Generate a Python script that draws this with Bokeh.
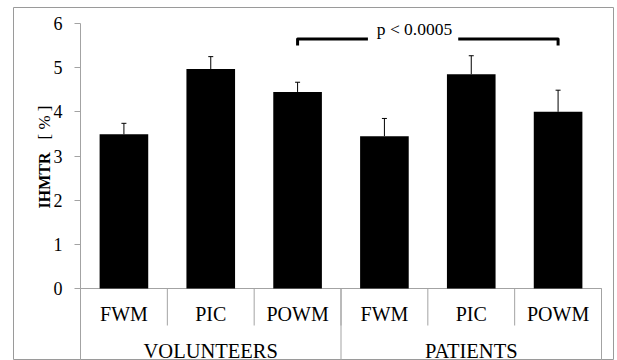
import math
from bokeh.plotting import figure
from bokeh.models import Range1d, FixedTicker, ColumnDataSource, Whisker, TeeHead
from bokeh.core.properties import value
from bokeh.embed import file_html
from bokeh.resources import INLINE

# ---- data ----
groups = ["VOLUNTEERS", "PATIENTS"]
regions = ["FWM", "PIC", "POWM", "FWM", "PIC", "POWM"]
ihmtr = [3.49, 4.97, 4.45, 3.45, 4.85, 4.00]
sem = [0.25, 0.28, 0.22, 0.40, 0.42, 0.49]
y_ticks = [0, 1, 2, 3, 4, 5, 6]
y_title_bold = "IHMTR"
y_title_unit = "[ % ]"
p_label = "p < 0.0005"
bracket_bars = (2, 5)      # POWM volunteers vs POWM patients
bracket_level = 5.65
bracket_drop = 0.15
bracket_gap = (3.31, 4.35)

SERIF = "Liberation Serif"
AXIS_GRAY = "#a3a3a3"
BORDER_GRAY = "#9a9a9a"

n = len(regions)
centers = [i + 0.5 for i in range(n)]
edges = [float(i) for i in range(n + 1)]
per_group = n // len(groups)
group_centers = [g * per_group + per_group / 2 for g in range(len(groups))]
group_edges = [float(g * per_group) for g in range(len(groups) + 1)]

# ---- layout in pixels (chart area = plot frame, outlined) ----
W, H = 617, 360
AREA_L, AREA_R, AREA_T = 13, 613, 7
X0_PX, X6_PX = 80, 601          # value-axis position / right end of categories
Y0_PX, Y6_PX = 288, 23          # zero line / top tick
PXX = (X6_PX - X0_PX) / n
PXY = (Y0_PX - Y6_PX) / 6.0
TEXT_SHIFT = 8                  # compensates the renderer's baseline offset
ROT_SHIFT = 4


def ydat(px_baseline):
    return (Y0_PX - (px_baseline - TEXT_SHIFT)) / PXY


x_lo = (AREA_L - X0_PX) / PXX
x_hi = n + (AREA_R - X6_PX) / PXX
y_hi = 6 + (Y6_PX - AREA_T) / PXY
y_lo = -(H - Y0_PX) / PXY
TICK_LEN = -37 / PXY

p = figure(width=W, height=H, output_backend="svg", toolbar_location=None,
           x_range=Range1d(x_lo, x_hi), y_range=Range1d(y_lo, y_hi),
           x_axis_location=None,
           min_border_left=AREA_L, min_border_right=W - AREA_R, min_border_top=AREA_T,
           min_border_bottom=0)
p.outline_line_color = BORDER_GRAY
p.outline_line_width = 1
p.grid.visible = False

# value axis, placed at the left end of the categories
ya = p.yaxis[0]
ya.fixed_location = 0
ya.bounds = (0, 6)
ya.ticker = FixedTicker(ticks=y_ticks)
ya.major_tick_out = 6
ya.major_tick_in = 0
ya.minor_tick_line_color = None
ya.axis_line_color = AXIS_GRAY
ya.major_tick_line_color = AXIS_GRAY
ya.major_label_text_font = SERIF
ya.major_label_text_font_size = "18px"
ya.major_label_text_color = "black"
ya.major_label_standoff = 12

# y title (bold name + regular unit), rotated
YT_X = (48 - ROT_SHIFT - X0_PX) / PXX
p.text(x=[YT_X], y=[(Y0_PX - 208) / PXY], text=[y_title_bold], angle=math.pi / 2,
       text_font=value(SERIF), text_font_size="16px", text_font_style="bold",
       text_color="black", text_align="left", text_baseline="alphabetic")
p.text(x=[YT_X], y=[(Y0_PX - 139) / PXY], text=[y_title_unit], angle=math.pi / 2,
       text_font=value(SERIF), text_font_size="17px",
       text_color="black", text_align="left", text_baseline="alphabetic")

# category axis below the zero line
p.segment(x0=[edges[0]], y0=[0], x1=[edges[-1]], y1=[0], line_color=AXIS_GRAY, line_width=1)
p.segment(x0=edges, y0=[0] * len(edges), x1=edges, y1=[TICK_LEN] * len(edges),
          line_color=AXIS_GRAY, line_width=1)
p.segment(x0=group_edges, y0=[0] * len(group_edges), x1=group_edges,
          y1=[y_lo] * len(group_edges), line_color=AXIS_GRAY, line_width=1)
p.text(x=centers, y=[ydat(321)] * n, text=regions, text_font=value(SERIF),
       text_font_size="20px", text_color="black", text_align="center",
       text_baseline="alphabetic")
p.text(x=group_centers, y=[ydat(358)] * len(groups), text=groups, text_font=value(SERIF),
       text_font_size="20.5px", text_color="black", text_align="center",
       text_baseline="alphabetic")

# bars
src = ColumnDataSource(dict(x=centers, top=ihmtr,
                            upper=[v + e for v, e in zip(ihmtr, sem)]))
p.vbar(x="x", top="top", bottom=0, width=0.56, source=src,
       fill_color="black", line_color=None)

# error bars (upper only)
w = Whisker(source=src, base="x", lower="top", upper="upper", dimension="height",
            line_color="black", line_width=1,
            upper_head=TeeHead(size=5, line_color="black", line_width=1),
            lower_head=None)
p.add_layout(w)

# significance bracket
xa, xb = centers[bracket_bars[0]], centers[bracket_bars[1]]
p.line(x=[xa, xa, bracket_gap[0]],
       y=[bracket_level - bracket_drop, bracket_level, bracket_level],
       line_width=3, line_color="black", line_join="round")
p.line(x=[bracket_gap[1], xb, xb],
       y=[bracket_level, bracket_level, bracket_level - bracket_drop],
       line_width=3, line_color="black", line_join="round")
p.text(x=[(414 - X0_PX) / PXX], y=[ydat(36)], text=[p_label],
       text_font=value(SERIF), text_font_size="17.5px", text_color="black",
       text_align="center", text_baseline="alphabetic")

open("out.html", "w").write(file_html(p, INLINE))
